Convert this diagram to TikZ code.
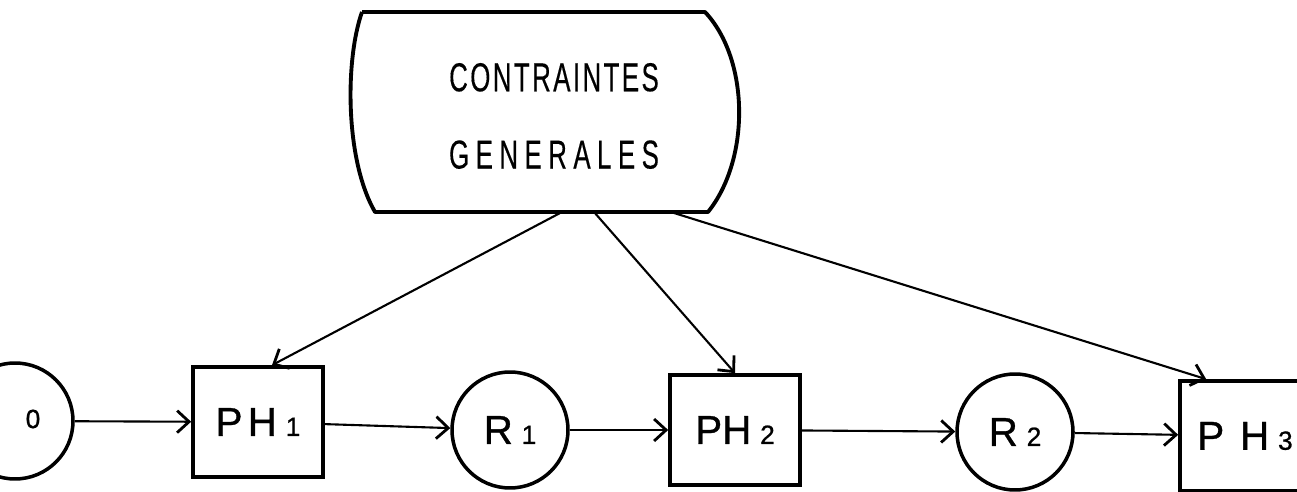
\documentclass[tikz,border=0pt]{standalone}
\usepackage{fontspec}
\setmainfont{Liberation Sans}
\newfontfamily\headfont[FakeStretch=0.64, LetterSpace=6, FakeBold=0.3]{Liberation Sans}
\newfontfamily\lblfont[FakeBold=0.8]{Liberation Sans}
\usetikzlibrary{positioning,calc,arrows.meta}
\newcommand{\idx}[1]{\hspace{5pt}{\fontsize{15}{15}\selectfont #1}}

\begin{document}
\begin{tikzpicture}[x=0.02cm, y=-0.02cm,
    every node/.style={font=\lblfont\fontsize{23}{26}\selectfont},
    phase/.style={draw, line width=2.1pt, minimum width=2.6cm, minimum height=2.2cm, inner sep=0pt},
    ressource/.style={circle, draw, line width=2pt, minimum size=2.32cm, inner sep=0pt},
    flow/.style={-{Straight Barb[length=2.4mm, width=4.4mm, line width=1.6pt]}, line width=1.2pt},
    outline/.style={line width=2.2pt, line join=round}]
    \useasboundingbox (0,0) rectangle (1297,492);

    % contraintes generales
    \draw[outline] (362,12) -- (705,12) .. controls (750,60) and (750,160) .. (708,212)
        -- (375,212) .. controls (345,160) and (345,60) .. (362,12);
    \node[font=\headfont\fontsize{23}{44}\selectfont, align=center] (cg) at (554,116)
        {CONTRAINTES\\\addfontfeatures{LetterSpace=16}GENERALES};
    \coordinate (cgA) at (562,212);
    \coordinate (cgB) at (594,212);
    \coordinate (cgC) at (674,213);

    % chaine des phases
    \node[ressource] (r0) at (15,421) {};
    \node[font=\lblfont\fontsize{15}{15}\selectfont] (r0lbl) at (33,419) {0};
    \node[phase] (ph1) at (258,422) {P\hspace{3pt}H\idx{1}};
    \node[ressource] (r1) at (510,430) {R\idx{1}};
    \node[phase] (ph2) at (735,430) {PH\idx{2}};
    \node[ressource] (r2) at (1015,432) {R\idx{2}};
    \node[phase] (ph3) at (1245,436) {P\hspace{9pt}H\idx{3}};

    \draw[flow] (r0) -- (ph1);
    \draw[flow] (ph1) -- (r1);
    \draw[flow] (r1) -- (ph2);
    \draw[flow] (ph2) -- (r2);
    \draw[flow] (r2) -- (ph3);

    \draw[flow] (cgA) -- ([xshift=0.28cm]ph1.north);
    \draw[flow] (cgB) -- (ph2.north);
    \draw[flow] (cgC) -- ([xshift=0.56cm]ph3.north west);
\end{tikzpicture}
\end{document}
